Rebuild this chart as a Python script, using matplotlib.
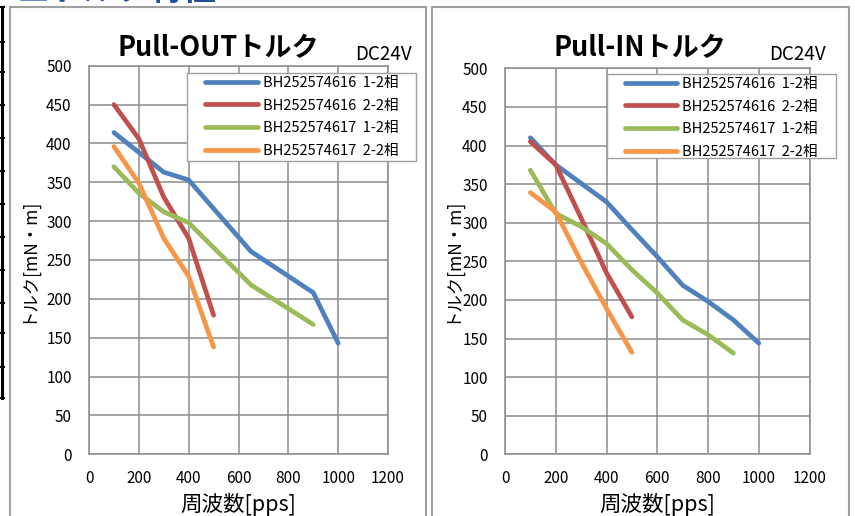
import matplotlib
matplotlib.use('Agg')
import matplotlib.pyplot as plt
from matplotlib.patches import Rectangle
from matplotlib.lines import Line2D

plt.rcParams['font.family'] = ['Noto Sans CJK JP', 'DejaVu Sans']

W = 855
H = 516

# Pull-OUT torque
out_616_12_x = [100, 300, 400, 650, 900, 1000]
out_616_12_y = [414, 363, 353, 261, 208, 143]
out_616_22_x = [100, 200, 300, 400, 500]
out_616_22_y = [450, 406, 331, 278, 179]
out_617_12_x = [100, 200, 300, 400, 650, 900]
out_617_12_y = [370, 336, 312, 298, 218, 167]
out_617_22_x = [100, 200, 300, 400, 500]
out_617_22_y = [396, 349, 278, 229, 138]

# Pull-IN torque
in_616_12_x = [100, 200, 400, 500, 600, 700, 800, 900, 1000]
in_616_12_y = [410, 375, 327, 291, 256, 219, 198, 174, 144]
in_616_22_x = [100, 200, 300, 400, 500]
in_616_22_y = [405, 375, 306, 235, 178]
in_617_12_x = [100, 200, 300, 400, 500, 600, 700, 800, 900]
in_617_12_y = [368, 312, 295, 273, 239, 209, 174, 155, 131]
in_617_22_x = [100, 200, 300, 400, 500]
in_617_22_y = [339, 314, 249, 189, 132]

labels = ['BH252574616  1-2相', 'BH252574616  2-2相',
          'BH252574617  1-2相', 'BH252574617  2-2相']
colors = ['#4F81BD', '#C0504D', '#9BBB59', '#F79646']
xticks = [0, 200, 400, 600, 800, 1000, 1200]
yticks = [0, 50, 100, 150, 200, 250, 300, 350, 400, 450, 500]

grid_c = '#8C8C8C'
box_c = '#A0A0A0'

fig = plt.figure(figsize=(W / 100, H / 100), dpi=100)


def fx(x):
    return x / W


def fy(y):
    return 1 - y / H


def px_rect(x0, y0, x1, y1, lw):
    fig.patches.append(Rectangle((fx(x0), fy(y1)), (x1 - x0) / W, (y1 - y0) / H,
                                 transform=fig.transFigure, fill=False,
                                 edgecolor=box_c, linewidth=lw, facecolor='white'))


def draw_panel(box, ax_box, series, title, title_x, dc_x, leg_box, ylab_x):
    px_rect(*box, 1.5)
    ax = fig.add_axes([fx(ax_box[0]), fy(ax_box[3]), (ax_box[2] - ax_box[0]) / W,
                       (ax_box[3] - ax_box[1]) / H])
    for (xs, ys), c in zip(series, colors):
        ax.plot(xs, ys, color=c, linewidth=3.4, solid_capstyle='round',
                solid_joinstyle='round')
    ax.set_xlim(0, 1200)
    ax.set_ylim(0, 500)
    ax.set_xticks(xticks)
    ax.set_yticks(yticks)
    ax.tick_params(length=0, labelsize=11, colors='black')
    ax.tick_params(axis='y', pad=12.5)
    ax.tick_params(axis='x', pad=11)
    ax.grid(True, color=grid_c, linewidth=1.1)
    ax.set_axisbelow(True)
    for s in ax.spines.values():
        s.set_color(grid_c)
        s.set_linewidth(1.1)
    fig.text(fx(title_x), fy(48), title, fontsize=19.5, fontweight='bold',
             ha='center', va='center')
    fig.text(fx(dc_x), fy(54), 'DC24V', fontsize=13.5, ha='center', va='center')
    fig.text(fx((ax_box[0] + ax_box[2]) / 2), fy(505), '周波数[pps]', fontsize=15.5,
             ha='center', va='center')
    fig.text(fx(ylab_x), fy(260), 'トルク[mN・m]', fontsize=12.5, rotation=90,
             ha='center', va='center')

    # legend: white box with grey edge, entries on top
    lx0, ly0, lx1, ly1 = leg_box
    fig.patches.append(Rectangle((fx(lx0), fy(ly1)), (lx1 - lx0) / W, (ly1 - ly0) / H,
                                 transform=fig.transFigure, facecolor='white',
                                 edgecolor=box_c, linewidth=1.0, zorder=3))
    handles = [Line2D([0], [0], color=c, linewidth=3.4, solid_capstyle='round')
               for c in colors]
    fig.legend(handles, labels, loc='upper left',
               bbox_to_anchor=(fx(lx0 + 18), fy(ly0 + 3)),
               bbox_transform=fig.transFigure, fontsize=10.5, frameon=False,
               handlelength=3.6, labelspacing=0.6, borderpad=0,
               handletextpad=0.35, borderaxespad=0)
    return ax


draw_panel((10, 7, 425.7, 530), (89, 65.7, 388, 454.3),
           [(out_616_12_x, out_616_12_y), (out_616_22_x, out_616_22_y),
            (out_617_12_x, out_617_12_y), (out_617_22_x, out_617_22_y)],
           'Pull-OUTトルク', 218, 383, (187, 72.7, 416, 161), 27)

draw_panel((432, 7, 849, 530), (505, 68.3, 809.5, 454.3),
           [(in_616_12_x, in_616_12_y), (in_616_22_x, in_616_22_y),
            (in_617_12_x, in_617_12_y), (in_617_22_x, in_617_22_y)],
           'Pull-INトルク', 640, 797, (606.7, 73.7, 836, 158), 451)

# cut-off heading and table edge from the source page
fig.text(fx(17), fy(7), '■トルク特性', fontsize=24, fontweight='bold',
         color='#1F4E9A', ha='left', va='bottom')
fig.add_artist(Line2D([fx(1.5), fx(1.5)], [fy(7), fy(398)],
                      transform=fig.transFigure, color='black', linewidth=2.2))
for yy in [7, 42, 72, 105, 138, 171, 204, 237, 270, 303, 333, 367, 398]:
    fig.add_artist(Line2D([0, fx(4)], [fy(yy), fy(yy)],
                          transform=fig.transFigure, color='black', linewidth=1.5))

fig.savefig('out.png', dpi=100)
